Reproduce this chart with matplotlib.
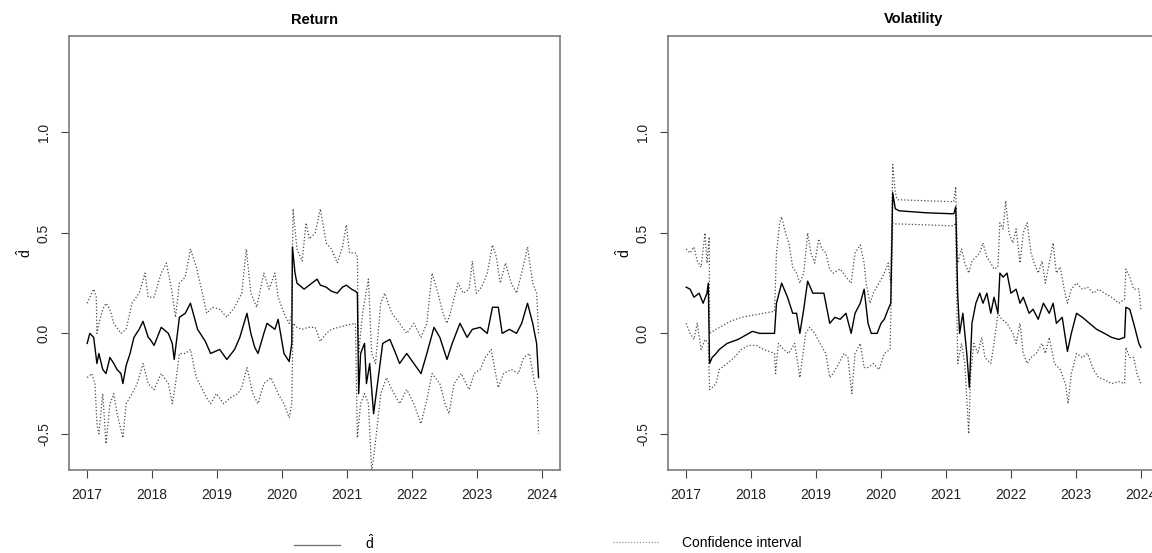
import matplotlib
matplotlib.use("Agg")
import matplotlib.pyplot as plt
from matplotlib.lines import Line2D

plt.rcParams["font.family"] = ["Liberation Sans", "DejaVu Sans"]
plt.rcParams["mathtext.fontset"] = "custom"
plt.rcParams["mathtext.rm"] = "Liberation Sans"
plt.rcParams["mathtext.it"] = "Liberation Sans"

# ---- Return panel: d-hat estimate ----
ret_d_t = [2017.00, 2017.04, 2017.10, 2017.15, 2017.18, 2017.24, 2017.29, 2017.35,
           2017.41, 2017.46, 2017.52, 2017.55, 2017.60, 2017.66, 2017.72, 2017.80,
           2017.86, 2017.94, 2017.97, 2018.03, 2018.14, 2018.25, 2018.31, 2018.34,
           2018.42, 2018.51, 2018.59, 2018.70, 2018.82, 2018.90, 2019.04, 2019.15,
           2019.27, 2019.35, 2019.46, 2019.52, 2019.58, 2019.63, 2019.72, 2019.77,
           2019.89, 2019.94, 2020.03, 2020.11, 2020.15, 2020.16, 2020.20, 2020.23,
           2020.34, 2020.42, 2020.54, 2020.59, 2020.68, 2020.76, 2020.85, 2020.93,
           2020.99, 2021.07, 2021.13, 2021.16, 2021.18, 2021.21, 2021.27, 2021.30,
           2021.35, 2021.41, 2021.47, 2021.55, 2021.66, 2021.75, 2021.81, 2021.92,
           2022.03, 2022.14, 2022.23, 2022.34, 2022.43, 2022.54, 2022.62, 2022.74,
           2022.85, 2022.93, 2023.05, 2023.16, 2023.24, 2023.33, 2023.39, 2023.50,
           2023.61, 2023.69, 2023.78, 2023.86, 2023.92, 2023.95]
ret_d_v = [-0.05, 0.00, -0.02, -0.15, -0.10, -0.18, -0.20, -0.12,
           -0.15, -0.18, -0.20, -0.25, -0.16, -0.10, -0.02, 0.02,
           0.06, -0.02, -0.03, -0.06, 0.03, 0.00, -0.05, -0.13,
           0.08, 0.10, 0.15, 0.02, -0.04, -0.10, -0.08, -0.13,
           -0.08, -0.02, 0.10, 0.00, -0.07, -0.10, 0.00, 0.05,
           0.02, 0.07, -0.10, -0.14, -0.05, 0.43, 0.30, 0.25,
           0.22, 0.24, 0.27, 0.24, 0.23, 0.21, 0.20, 0.23,
           0.24, 0.22, 0.21, 0.20, -0.30, -0.10, -0.05, -0.25,
           -0.15, -0.40, -0.25, -0.05, -0.03, -0.10, -0.15, -0.10,
           -0.15, -0.20, -0.10, 0.03, -0.02, -0.13, -0.05, 0.05,
           -0.02, 0.02, 0.03, 0.00, 0.13, 0.13, 0.00, 0.02,
           0.00, 0.05, 0.15, 0.05, -0.05, -0.22]

# ---- Return panel: confidence interval ----
ret_up_t = [2017.00, 2017.07, 2017.10, 2017.14, 2017.15, 2017.18, 2017.24, 2017.29,
            2017.35, 2017.41, 2017.52, 2017.60, 2017.69, 2017.80, 2017.89, 2017.94,
            2018.03, 2018.14, 2018.22, 2018.31, 2018.36, 2018.42, 2018.51, 2018.59,
            2018.68, 2018.76, 2018.84, 2018.93, 2019.04, 2019.15, 2019.27, 2019.38,
            2019.45, 2019.52, 2019.61, 2019.72, 2019.80, 2019.89, 2019.94, 2020.03,
            2020.11, 2020.15, 2020.17, 2020.23, 2020.31, 2020.37, 2020.42, 2020.51,
            2020.59, 2020.68, 2020.76, 2020.85, 2020.93, 2020.99, 2021.04, 2021.13,
            2021.16, 2021.18, 2021.24, 2021.33, 2021.38, 2021.44, 2021.52, 2021.58,
            2021.69, 2021.81, 2021.92, 2022.03, 2022.14, 2022.23, 2022.31, 2022.40,
            2022.48, 2022.54, 2022.59, 2022.71, 2022.79, 2022.88, 2022.93, 2022.99,
            2023.05, 2023.10, 2023.16, 2023.24, 2023.30, 2023.36, 2023.44, 2023.53,
            2023.61, 2023.69, 2023.78, 2023.86, 2023.92, 2023.95]
ret_up_v = [0.15, 0.20, 0.22, 0.18, 0.00, 0.05, 0.12, 0.15,
            0.12, 0.05, 0.00, 0.02, 0.15, 0.20, 0.30, 0.18,
            0.18, 0.30, 0.35, 0.20, 0.08, 0.25, 0.28, 0.42,
            0.33, 0.22, 0.10, 0.13, 0.12, 0.08, 0.13, 0.20,
            0.42, 0.20, 0.13, 0.30, 0.22, 0.30, 0.18, 0.10,
            0.05, 0.10, 0.62, 0.42, 0.36, 0.55, 0.47, 0.50,
            0.62, 0.45, 0.42, 0.35, 0.43, 0.54, 0.40, 0.40,
            0.38, -0.10, 0.10, 0.27, -0.10, -0.15, 0.15, 0.20,
            0.10, 0.05, 0.00, 0.05, -0.02, 0.05, 0.30, 0.20,
            0.10, 0.05, 0.10, 0.25, 0.20, 0.22, 0.36, 0.20,
            0.22, 0.25, 0.30, 0.44, 0.38, 0.25, 0.35, 0.25,
            0.20, 0.30, 0.43, 0.25, 0.20, 0.00]

ret_lo_t = [2017.00, 2017.07, 2017.12, 2017.15, 2017.18, 2017.24, 2017.29, 2017.35,
            2017.41, 2017.46, 2017.55, 2017.60, 2017.69, 2017.77, 2017.86, 2017.94,
            2018.03, 2018.14, 2018.25, 2018.31, 2018.36, 2018.42, 2018.51, 2018.59,
            2018.68, 2018.76, 2018.84, 2018.90, 2018.99, 2019.10, 2019.21, 2019.32,
            2019.38, 2019.46, 2019.55, 2019.63, 2019.72, 2019.83, 2019.94, 2020.03,
            2020.11, 2020.15, 2020.17, 2020.23, 2020.31, 2020.40, 2020.51, 2020.59,
            2020.68, 2020.76, 2020.87, 2020.99, 2021.13, 2021.16, 2021.21, 2021.27,
            2021.33, 2021.38, 2021.41, 2021.47, 2021.52, 2021.61, 2021.69, 2021.81,
            2021.92, 2022.03, 2022.14, 2022.23, 2022.31, 2022.43, 2022.51, 2022.57,
            2022.65, 2022.76, 2022.88, 2022.96, 2023.05, 2023.13, 2023.22, 2023.33,
            2023.41, 2023.53, 2023.64, 2023.72, 2023.81, 2023.89, 2023.93, 2023.95]
ret_lo_v = [-0.22, -0.20, -0.25, -0.45, -0.50, -0.30, -0.55, -0.35,
            -0.30, -0.40, -0.52, -0.35, -0.30, -0.25, -0.15, -0.25,
            -0.28, -0.20, -0.25, -0.35, -0.25, -0.10, -0.10, -0.08,
            -0.22, -0.27, -0.32, -0.35, -0.30, -0.35, -0.32, -0.30,
            -0.27, -0.17, -0.30, -0.35, -0.25, -0.22, -0.30, -0.35,
            -0.42, -0.35, 0.05, 0.03, 0.02, 0.03, 0.03, -0.04,
            0.00, 0.02, 0.03, 0.04, 0.05, -0.52, -0.35, -0.30,
            -0.35, -0.68, -0.62, -0.45, -0.30, -0.22, -0.28, -0.35,
            -0.28, -0.35, -0.45, -0.33, -0.20, -0.25, -0.35, -0.40,
            -0.25, -0.20, -0.28, -0.20, -0.18, -0.12, -0.08, -0.27,
            -0.20, -0.18, -0.20, -0.12, -0.10, -0.25, -0.30, -0.50]

# ---- Volatility panel: d-hat estimate ----
vol_d_t = [2017.00, 2017.06, 2017.12, 2017.20, 2017.26, 2017.32, 2017.34, 2017.36,
           2017.40, 2017.46, 2017.51, 2017.63, 2017.80, 2017.91, 2018.02, 2018.13,
           2018.25, 2018.36, 2018.39, 2018.47, 2018.56, 2018.64, 2018.70, 2018.75,
           2018.81, 2018.87, 2018.95, 2019.04, 2019.12, 2019.21, 2019.29, 2019.37,
           2019.46, 2019.54, 2019.60, 2019.68, 2019.74, 2019.80, 2019.85, 2019.94,
           2020.00, 2020.05, 2020.11, 2020.15, 2020.18, 2020.22, 2020.28, 2020.70,
           2021.12, 2021.15, 2021.18, 2021.21, 2021.26, 2021.32, 2021.36, 2021.40,
           2021.46, 2021.52, 2021.57, 2021.63, 2021.69, 2021.74, 2021.80, 2021.83,
           2021.88, 2021.94, 2022.00, 2022.08, 2022.14, 2022.19, 2022.28, 2022.34,
           2022.42, 2022.50, 2022.59, 2022.65, 2022.70, 2022.79, 2022.87, 2022.93,
           2023.01, 2023.10, 2023.21, 2023.32, 2023.44, 2023.55, 2023.66, 2023.75,
           2023.77, 2023.83, 2023.89, 2023.97, 2024.00]
vol_d_v = [0.23, 0.22, 0.18, 0.20, 0.15, 0.20, 0.25, -0.15,
           -0.12, -0.10, -0.08, -0.05, -0.03, -0.01, 0.01, 0.00,
           0.00, 0.00, 0.15, 0.25, 0.18, 0.10, 0.10, 0.00,
           0.12, 0.26, 0.20, 0.20, 0.20, 0.05, 0.08, 0.07,
           0.10, 0.00, 0.10, 0.15, 0.22, 0.05, 0.00, 0.00,
           0.05, 0.07, 0.12, 0.15, 0.70, 0.62, 0.61, 0.60,
           0.595, 0.63, 0.20, 0.00, 0.10, -0.10, -0.27, 0.05,
           0.15, 0.20, 0.15, 0.20, 0.10, 0.18, 0.10, 0.30,
           0.28, 0.30, 0.20, 0.22, 0.15, 0.18, 0.10, 0.12,
           0.07, 0.15, 0.10, 0.15, 0.05, 0.08, -0.09, 0.00,
           0.10, 0.08, 0.05, 0.02, 0.00, -0.02, -0.03, -0.02,
           0.13, 0.12, 0.05, -0.05, -0.07]

# ---- Volatility panel: confidence interval ----
vol_up_t = [2017.00, 2017.06, 2017.12, 2017.17, 2017.23, 2017.29, 2017.32, 2017.355,
            2017.36, 2017.46, 2017.57, 2017.68, 2017.85, 2018.02, 2018.19, 2018.36,
            2018.39, 2018.44, 2018.47, 2018.53, 2018.58, 2018.64, 2018.70, 2018.75,
            2018.81, 2018.87, 2018.92, 2018.98, 2019.04, 2019.09, 2019.15, 2019.21,
            2019.26, 2019.37, 2019.46, 2019.54, 2019.60, 2019.68, 2019.74, 2019.77,
            2019.83, 2019.88, 2019.97, 2020.05, 2020.11, 2020.15, 2020.18, 2020.22,
            2020.25, 2020.70, 2021.12, 2021.15, 2021.18, 2021.24, 2021.29, 2021.35,
            2021.40, 2021.46, 2021.52, 2021.57, 2021.63, 2021.69, 2021.74, 2021.80,
            2021.83, 2021.88, 2021.92, 2021.97, 2022.03, 2022.08, 2022.14, 2022.19,
            2022.25, 2022.31, 2022.36, 2022.42, 2022.48, 2022.53, 2022.65, 2022.70,
            2022.76, 2022.82, 2022.87, 2022.93, 2023.01, 2023.10, 2023.18, 2023.27,
            2023.35, 2023.44, 2023.55, 2023.66, 2023.75, 2023.77, 2023.83, 2023.89,
            2023.97, 2024.00]
vol_up_v = [0.42, 0.40, 0.43, 0.36, 0.33, 0.50, 0.35, 0.48,
            0.00, 0.02, 0.04, 0.06, 0.08, 0.09, 0.10, 0.11,
            0.40, 0.55, 0.58, 0.50, 0.45, 0.33, 0.30, 0.25,
            0.30, 0.50, 0.40, 0.35, 0.47, 0.42, 0.40, 0.32,
            0.30, 0.32, 0.28, 0.25, 0.40, 0.44, 0.35, 0.25,
            0.15, 0.20, 0.25, 0.30, 0.35, 0.25, 0.84, 0.70,
            0.665, 0.66, 0.655, 0.73, 0.35, 0.42, 0.35, 0.30,
            0.36, 0.38, 0.40, 0.45, 0.38, 0.35, 0.32, 0.33,
            0.55, 0.52, 0.66, 0.50, 0.45, 0.52, 0.35, 0.50,
            0.55, 0.40, 0.35, 0.30, 0.36, 0.25, 0.45, 0.30,
            0.33, 0.22, 0.15, 0.22, 0.25, 0.22, 0.23, 0.20,
            0.22, 0.20, 0.18, 0.15, 0.17, 0.32, 0.28, 0.22,
            0.22, 0.12]

vol_lo_t = [2017.00, 2017.06, 2017.12, 2017.17, 2017.23, 2017.29, 2017.34, 2017.36,
            2017.40, 2017.46, 2017.51, 2017.63, 2017.74, 2017.85, 2017.96, 2018.08,
            2018.19, 2018.36, 2018.376, 2018.42, 2018.50, 2018.58, 2018.67, 2018.75,
            2018.84, 2018.90, 2018.98, 2019.06, 2019.15, 2019.21, 2019.26, 2019.35,
            2019.43, 2019.49, 2019.55, 2019.60, 2019.68, 2019.74, 2019.80, 2019.88,
            2019.97, 2020.05, 2020.14, 2020.18, 2020.22, 2020.70, 2021.12, 2021.15,
            2021.18, 2021.24, 2021.29, 2021.35, 2021.38, 2021.43, 2021.49, 2021.55,
            2021.60, 2021.69, 2021.74, 2021.80, 2021.86, 2021.94, 2022.03, 2022.08,
            2022.14, 2022.19, 2022.25, 2022.31, 2022.39, 2022.48, 2022.53, 2022.59,
            2022.67, 2022.76, 2022.84, 2022.88, 2022.93, 2023.01, 2023.10, 2023.18,
            2023.27, 2023.35, 2023.44, 2023.55, 2023.66, 2023.75, 2023.77, 2023.83,
            2023.89, 2023.94, 2024.00]
vol_lo_v = [0.05, 0.00, -0.03, 0.05, -0.08, -0.03, -0.05, -0.28,
            -0.27, -0.25, -0.18, -0.15, -0.12, -0.08, -0.06, -0.06,
            -0.08, -0.10, -0.20, -0.05, -0.08, -0.10, -0.05, -0.22,
            0.00, 0.03, 0.00, -0.05, -0.10, -0.22, -0.20, -0.15,
            -0.10, -0.12, -0.30, -0.10, -0.05, -0.17, -0.17, -0.15,
            -0.18, -0.10, -0.08, 0.55, 0.545, 0.54, 0.535, 0.55,
            -0.15, -0.05, -0.15, -0.50, -0.20, -0.05, -0.10, -0.02,
            -0.12, -0.15, -0.05, 0.10, 0.07, 0.05, 0.00, -0.05,
            0.05, -0.10, -0.15, -0.12, -0.10, -0.05, -0.10, -0.02,
            -0.15, -0.18, -0.25, -0.35, -0.20, -0.10, -0.12, -0.10,
            -0.18, -0.22, -0.23, -0.25, -0.24, -0.25, -0.07, -0.12,
            -0.12, -0.20, -0.25]

YEARS = [2017, 2018, 2019, 2020, 2021, 2022, 2023, 2024]
Y_TICKS = [-0.5, 0.0, 0.5, 1.0]

FRAME = "#7a7a7a"
CI_COLOR = "#4a4a4a"


def style_axes(ax, title):
    ax.set_xlim(2016.72, 2024.28)
    ax.set_ylim(-0.68, 1.48)
    ax.set_xticks(YEARS)
    ax.set_yticks(Y_TICKS)
    ax.set_yticklabels([f"{v:.1f}" for v in Y_TICKS], rotation=90, va="center")
    ax.tick_params(axis="both", length=6, width=0.8, color="#444444",
                   labelsize=10, pad=7, labelcolor="#222222")
    for sp in ax.spines.values():
        sp.set_color(FRAME)
        sp.set_linewidth(1.2)
    ax.set_title(title, fontsize=10.5, fontweight="bold", pad=9)
    ax.set_ylabel(r"$\hat{d}$", fontsize=10, labelpad=2)


fig = plt.figure(figsize=(11.52, 5.53), dpi=100)
ax1 = fig.add_axes([69 / 1152, 83 / 553, 491 / 1152, 434 / 553])
ax2 = fig.add_axes([668 / 1152, 83 / 553, 491 / 1152, 434 / 553])

ax1.plot(ret_up_t, ret_up_v, color=CI_COLOR, lw=0.9, ls=":")
ax1.plot(ret_lo_t, ret_lo_v, color=CI_COLOR, lw=0.9, ls=":")
ax1.plot(ret_d_t, ret_d_v, color="black", lw=1.0)
style_axes(ax1, "Return")

ax2.plot(vol_up_t, vol_up_v, color=CI_COLOR, lw=0.9, ls=":")
ax2.plot(vol_lo_t, vol_lo_v, color=CI_COLOR, lw=0.9, ls=":")
ax2.plot(vol_d_t, vol_d_v, color="black", lw=1.0)
style_axes(ax2, "Volatility")

# legend along the bottom
h_d = Line2D([], [], color="#777777", lw=1.0)
h_ci = Line2D([], [], color="#888888", lw=0.8, ls=":")
leg1 = fig.legend(handles=[h_d], labels=[r"$\hat{d}$"], loc="center left",
                  bbox_to_anchor=(294 / 1152, 10 / 553), frameon=False,
                  borderpad=0, borderaxespad=0, handlelength=3.3,
                  handletextpad=1.8, fontsize=10)
leg2 = fig.legend(handles=[h_ci], labels=["Confidence interval"], loc="center left",
                  bbox_to_anchor=(613 / 1152, 10 / 553), frameon=False,
                  borderpad=0, borderaxespad=0, handlelength=3.3,
                  handletextpad=1.7, fontsize=10)

fig.savefig("out.png", dpi=100)
